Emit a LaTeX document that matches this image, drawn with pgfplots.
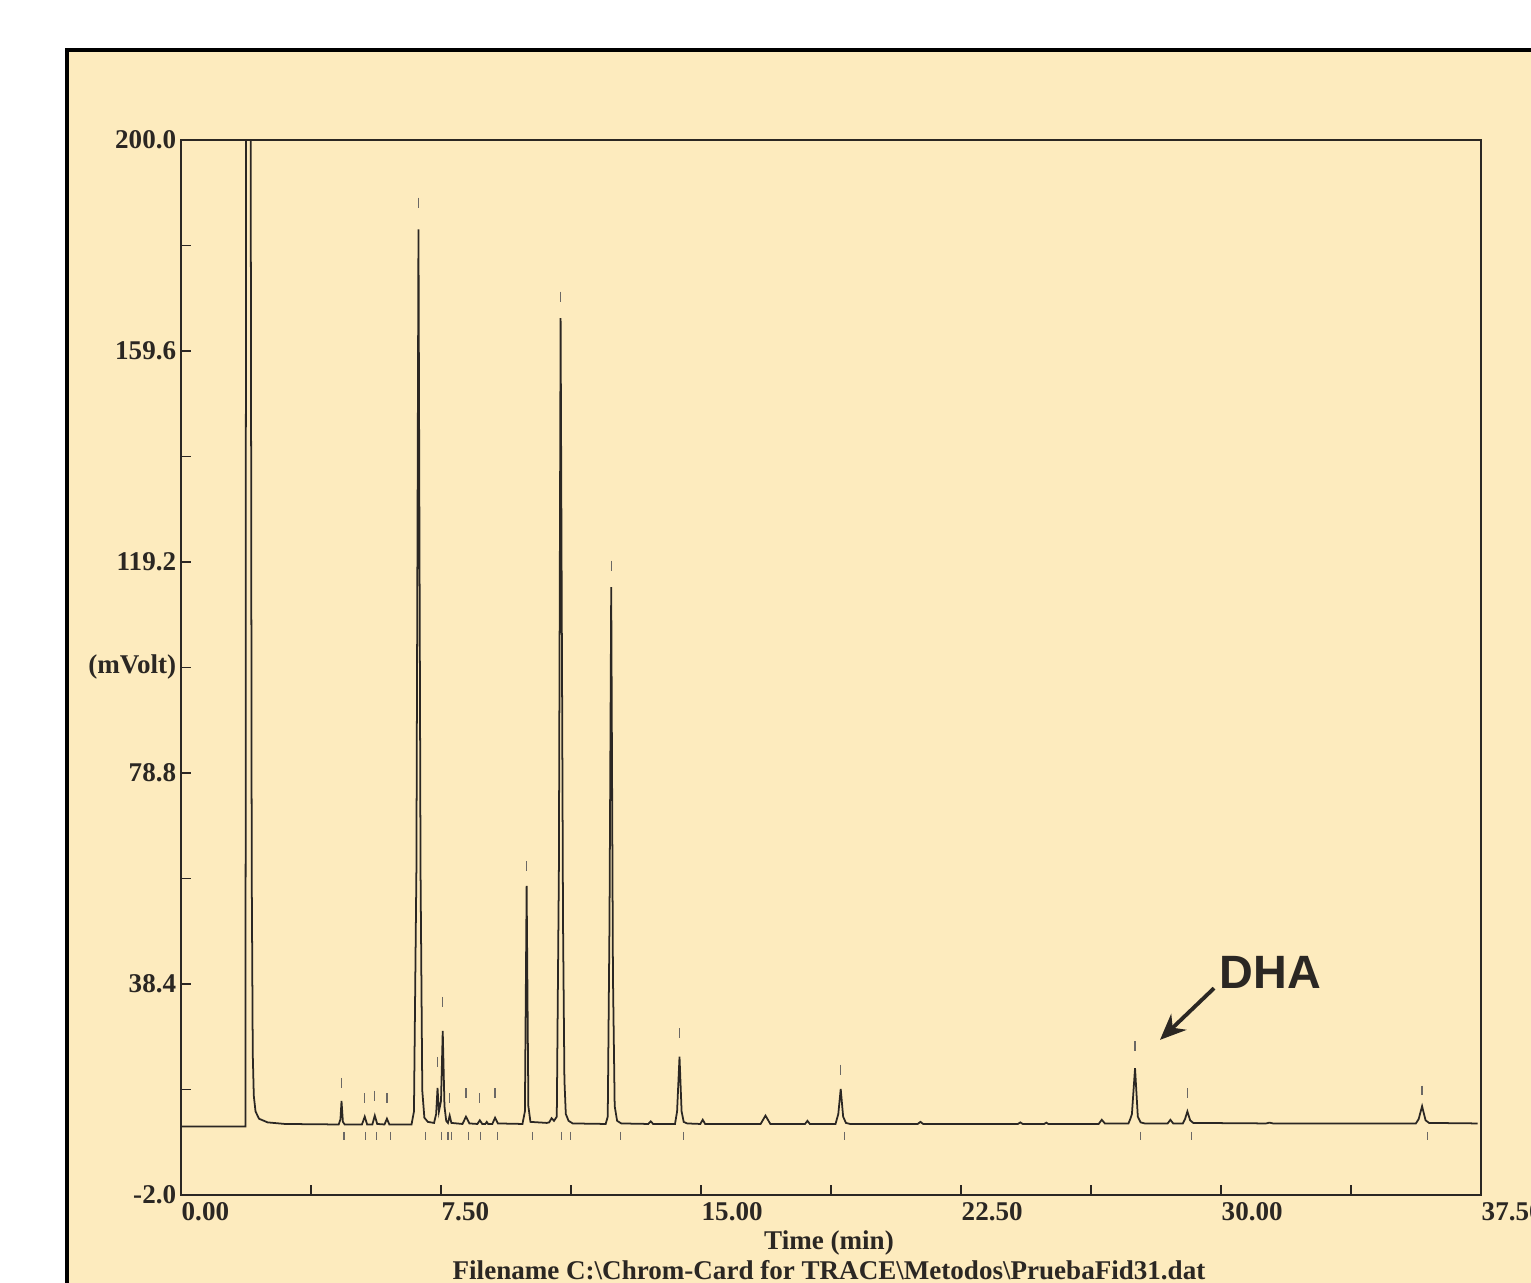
\documentclass[border=0pt]{standalone}
\usepackage{fontspec}
\setmainfont{Liberation Serif}
\newfontfamily\dhafont{Liberation Sans}
\usepackage{pgfplots}
\pgfplotsset{compat=1.18}
\usetikzlibrary{arrows.meta}
\definecolor{paper}{HTML}{FDEBBE}
\definecolor{ink}{HTML}{2B2723}

\begin{document}
\begin{tikzpicture}[x=1cm,y=1cm]
\fill[white] (0,0) rectangle (15.31,12.83);
\path[use as bounding box] (0,0) rectangle (15.31,12.83);
\fill[paper] (0.67,0) rectangle (15.31,12.33);
\draw[black, line width=0.04cm] (0.67,-0.1) -- (0.67,12.33) -- (15.5,12.33);

\begin{axis}[
  at={(1.81cm,0.88cm)}, anchor=south west,
  scale only axis, width=13.0cm, height=10.55cm,
  xmin=0, xmax=37.5, ymin=-2, ymax=200,
  axis line style={line width=0.6pt, ink},
  tick style={line width=0.5pt, ink},
  tick align=inside, major tick length=0.1cm,
  xtick pos=left, ytick pos=left,
  xtick={0,3.75,7.5,11.25,15,18.75,22.5,26.25,30,33.75,37.5},
  xticklabels={0.00,,7.50,,15.00,,22.50,,30.00,,37.50},
  ytick={-2,18.2,38.4,58.6,78.8,99,119.2,139.4,159.6,179.8,200},
  yticklabels={-2.0,,38.4,,78.8,(mVolt),119.2,,159.6,,200.0},
  tick label style={font=\fontsize{7.7}{9}\selectfont\bfseries, text=ink},
  xticklabel style={anchor=north west, inner sep=1pt, xshift=-1pt, yshift=-1pt},
  yticklabel style={anchor=east, inner sep=1.2pt},
]
% chromatogram trace
\addplot[ink, line width=0.5pt] coordinates {
(0,11.1)(1.86,11.1)(1.88,250)(2.00,250)(2.04,60)(2.07,25)(2.10,17)(2.15,14)
(2.25,12.6)(2.5,11.9)(3.0,11.6)(4.55,11.5)(4.60,12.5)(4.63,16.0)(4.67,12.0)
(4.72,11.5)(5.22,11.5)(5.30,13.0)(5.37,11.5)(5.52,11.5)(5.59,13.2)(5.66,11.6)
(5.87,11.5)(5.94,12.6)(6.01,11.5)(6.65,11.5)(6.72,14)(6.79,60)(6.85,182.9)
(6.91,60)(6.96,18)(7.02,12.8)(7.12,12.0)(7.30,11.8)(7.36,13.5)(7.40,18.5)
(7.44,14)(7.50,16)(7.55,29.4)(7.60,15)(7.65,12.2)(7.70,11.8)(7.75,13.2)
(7.80,11.8)(8.12,11.6)(8.22,13.0)(8.32,11.7)(8.55,11.6)(8.62,12.3)(8.69,11.6)
(8.78,11.6)(8.82,12.0)(8.86,11.6)(8.98,11.6)(9.06,12.8)(9.14,11.7)(9.85,11.6)
(9.92,14)(9.97,57.2)(10.02,15)(10.08,12.0)(10.55,11.8)(10.62,11.9)(10.69,12.7)
(10.76,12.2)(10.84,13)(10.90,60)(10.95,165.9)(11.02,50)(11.06,20)(11.10,13.5)
(11.18,12.2)(11.30,11.7)(12.25,11.6)(12.31,13)(12.36,50)(12.41,114.4)(12.46,40)
(12.51,15)(12.58,12.2)(12.70,11.7)(13.48,11.6)(13.55,12.1)(13.62,11.6)
(14.25,11.6)(14.31,14)(14.38,24.5)(14.44,14)(14.50,12)(14.60,11.7)(14.98,11.6)
(15.05,12.4)(15.12,11.6)(16.72,11.6)(16.86,13.2)(17.00,11.6)(18.0,11.6)
(18.07,12.2)(18.14,11.6)(18.88,11.6)(18.96,13.5)(19.03,18.3)(19.10,13)
(19.18,11.8)(19.3,11.6)(21.25,11.6)(21.33,12.0)(21.41,11.6)(24.14,11.6)
(24.21,11.9)(24.28,11.6)(24.90,11.6)(24.96,11.85)(25.02,11.6)(26.47,11.6)
(26.56,12.4)(26.65,11.7)(27.33,11.7)(27.38,12.5)(27.43,13.5)(27.52,22.3)
(27.60,13)(27.68,11.9)(27.8,11.7)(28.46,11.7)(28.54,12.4)(28.62,11.7)
(28.90,11.7)(28.96,12.5)(29.03,14.0)(29.11,12.3)(29.20,11.8)(31.30,11.7)
(31.40,11.85)(31.50,11.7)(35.62,11.7)(35.70,12.5)(35.80,15.0)(35.90,12.3)
(36.00,11.8)(37.40,11.7)
};
% integrator peak markers above the peaks
\addplot[only marks, mark=|, mark size=1.4pt, mark options={line width=0.35pt, ink!70}] coordinates {
(4.63,19.5)(5.30,16.5)(5.59,17.0)(5.94,16.5)(6.85,188)(7.40,23.5)(7.55,35)
(7.75,16.5)(8.22,17.5)(8.62,16.5)(9.06,17.5)(9.97,61)(10.95,170)(12.41,118.5)
(14.38,29)(19.03,22)(27.52,26.5)(29.03,17.5)(35.80,18)
};
% end-of-peak markers below the baseline
\addplot[only marks, mark=|, mark size=1.2pt, mark options={line width=0.35pt, ink!70}] coordinates {
(4.70,9.3)(5.33,9.3)(5.65,9.3)(6.05,9.3)(7.06,9.3)(7.52,9.3)(7.70,9.3)(7.81,9.3)
(8.30,9.3)(8.65,9.3)(9.14,9.3)(10.15,9.3)(10.98,9.3)(11.24,9.3)(12.68,9.3)
(14.50,9.3)(19.14,9.3)(27.67,9.3)(29.14,9.3)(35.95,9.3)
};
\node[anchor=base west, font=\dhafont\bfseries\fontsize{13.3}{15}\selectfont, text=ink, inner sep=0pt]
  at (axis cs:29.95,37.6) {DHA};
\draw[-{Stealth[length=0.26cm,width=0.22cm]}, line width=1.1pt, ink]
  (axis cs:29.8,37.6) -- (axis cs:28.24,27.7);
\end{axis}

\node[font=\fontsize{7.7}{9}\selectfont\bfseries, text=ink, anchor=base] at (8.29,0.33) {Time (min)};
\node[font=\fontsize{7.7}{9}\selectfont\bfseries, text=ink, anchor=base] at (8.29,0.03)
  {Filename C:\textbackslash Chrom-Card for TRACE\textbackslash Metodos\textbackslash PruebaFid31.dat};
\end{tikzpicture}
\end{document}
